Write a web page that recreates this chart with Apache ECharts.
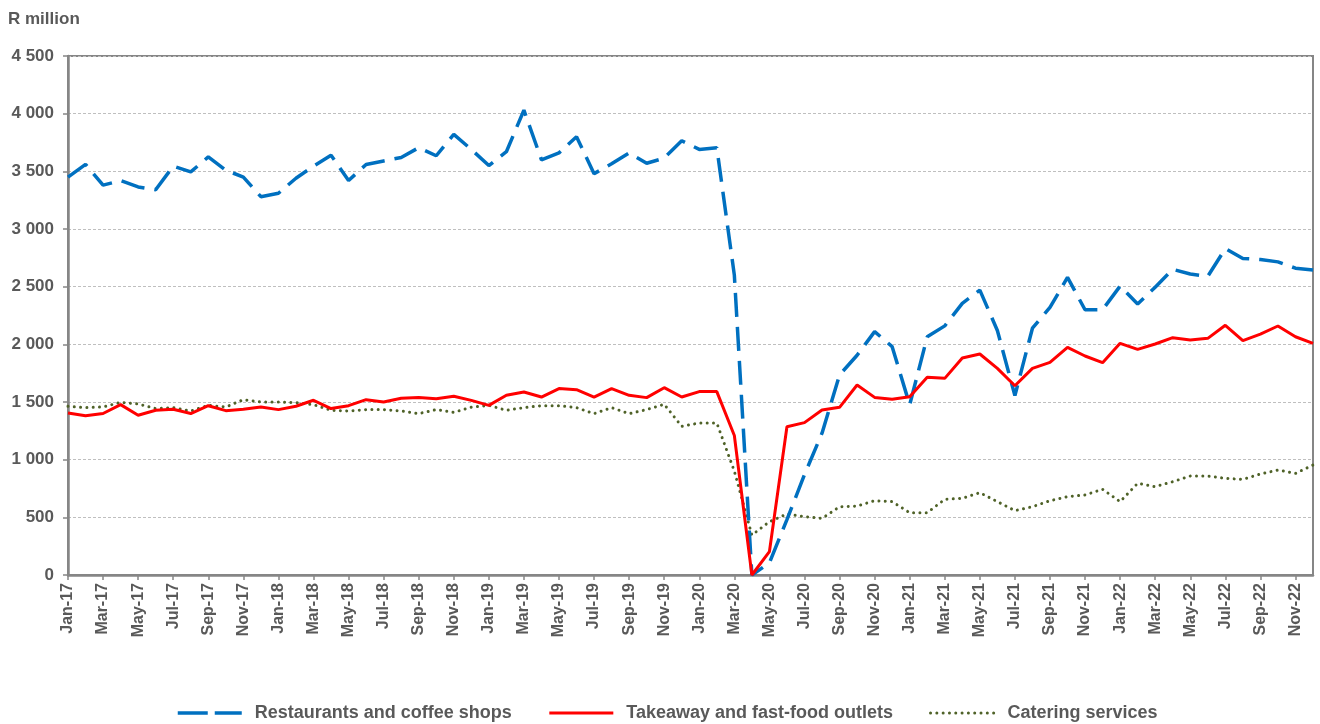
<!DOCTYPE html>
<html>
<head>
<meta charset="utf-8">
<script src="https://cdn.jsdelivr.net/npm/echarts@6/dist/echarts.min.js"></script>
<style>
html,body{margin:0;padding:0;background:#fff;}
#chart{width:1320px;height:724px;}
</style>
</head>
<body>
<div id="chart"></div>
<script>
var months = [
 'Jan-17','Feb-17','Mar-17','Apr-17','May-17','Jun-17','Jul-17','Aug-17','Sep-17','Oct-17','Nov-17','Dec-17',
 'Jan-18','Feb-18','Mar-18','Apr-18','May-18','Jun-18','Jul-18','Aug-18','Sep-18','Oct-18','Nov-18','Dec-18',
 'Jan-19','Feb-19','Mar-19','Apr-19','May-19','Jun-19','Jul-19','Aug-19','Sep-19','Oct-19','Nov-19','Dec-19',
 'Jan-20','Feb-20','Mar-20','Apr-20','May-20','Jun-20','Jul-20','Aug-20','Sep-20','Oct-20','Nov-20','Dec-20',
 'Jan-21','Feb-21','Mar-21','Apr-21','May-21','Jun-21','Jul-21','Aug-21','Sep-21','Oct-21','Nov-21','Dec-21',
 'Jan-22','Feb-22','Mar-22','Apr-22','May-22','Jun-22','Jul-22','Aug-22','Sep-22','Oct-22','Nov-22','Dec-22'
];

var restaurants = [
 3450,3560,3380,3420,3365,3340,3545,3495,3625,3510,3450,3280,
 3310,3440,3545,3640,3420,3560,3590,3620,3705,3635,3820,3690,
 3550,3670,4030,3600,3660,3800,3480,3565,3660,3570,3615,3765,
 3690,3705,2600,0,105,480,870,1230,1735,1905,2110,1980,
 1475,2065,2160,2355,2470,2120,1555,2140,2320,2580,2300,2300,
 2505,2350,2495,2650,2610,2590,2830,2745,2735,2715,2660,2645
];

var takeaway = [
 1405,1380,1400,1477,1385,1428,1437,1400,1468,1425,1437,1457,
 1434,1463,1515,1443,1468,1520,1500,1532,1538,1529,1550,1514,
 1471,1558,1587,1543,1616,1607,1543,1616,1558,1538,1624,1543,
 1590,1590,1210,0,202,1286,1321,1431,1454,1647,1540,1523,
 1546,1714,1705,1881,1916,1792,1641,1792,1844,1974,1899,1841,
 2009,1956,2003,2058,2037,2052,2165,2032,2089,2159,2066,2009
];

var catering = [
 1463,1451,1457,1497,1483,1443,1451,1422,1471,1457,1520,1500,
 1500,1494,1477,1428,1422,1434,1434,1422,1399,1434,1410,1455,
 1471,1428,1451,1468,1468,1451,1399,1451,1399,1434,1480,1289,
 1318,1318,900,346,462,529,506,491,592,598,644,636,
 540,540,656,665,714,636,558,592,644,679,694,743,
 636,795,766,809,858,858,838,829,876,910,881,954
];

var seriesNames = ['Restaurants and coffee shops','Takeaway and fast-food outlets','Catering services'];

var FONT = '"Liberation Sans", Arial, sans-serif';
var TXT = '#595959';
var AX = '#868686';
var BLUE = '#0070C0', RED = '#FF0000', GREEN = '#4F6228';

var chart = echarts.init(document.getElementById('chart'), null, {renderer:'canvas'});
chart.setOption({
  animation: false,
  backgroundColor: '#ffffff',
  title: {
    text: 'R million',
    left: 3, top: 6,
    textStyle: {fontFamily: FONT, fontSize: 17, fontWeight: 'bold', color: TXT}
  },
  grid: {
    left: 68, right: 7, top: 56, bottom: 149,
    show: true, borderColor: AX, borderWidth: 2, backgroundColor: 'transparent'
  },
  legend: {
    top: 699, left: 171,
    itemWidth: 64, itemHeight: 14, itemGap: 36,
    itemStyle: {opacity: 0},
    textStyle: {fontFamily: FONT, fontSize: 18, fontWeight: 'bold', color: TXT, padding: [0, 0, 0, 8]},
    data: [
      {name: seriesNames[0], itemStyle: {opacity: 0}, lineStyle: {color: BLUE, width: 3.5, type: [30, 7]}},
      {name: seriesNames[1], itemStyle: {opacity: 0}, lineStyle: {color: RED, width: 3, type: 'solid'}},
      {name: seriesNames[2], itemStyle: {opacity: 0}, lineStyle: {color: GREEN, width: 3, type: [0.01, 6.3], cap: 'round'}}
    ]
  },
  xAxis: {
    type: 'category',
    data: months,
    boundaryGap: false,
    axisLine: {lineStyle: {color: AX, width: 2.5}},
    axisTick: {show: true, interval: 1, length: 5, lineStyle: {color: AX, width: 1.5}},
    axisLabel: {
      interval: 1, rotate: 90, margin: 8,
      fontFamily: FONT, fontSize: 16, fontWeight: 'bold', color: TXT
    },
    splitLine: {show: false}
  },
  yAxis: {
    type: 'value',
    min: 0, max: 4500, interval: 500,
    axisLine: {show: true, lineStyle: {color: AX, width: 2.5}},
    axisTick: {show: true, length: 5, lineStyle: {color: AX, width: 1.5}},
    axisLabel: {
      margin: 14,
      fontFamily: FONT, fontSize: 17, fontWeight: 'bold', color: TXT,
      formatter: function (v) {
        var s = String(v);
        if (v >= 1000) s = s.slice(0, s.length - 3) + ' ' + s.slice(s.length - 3);
        return s;
      }
    },
    splitLine: {show: true, lineStyle: {color: '#BFBFBF', width: 1, type: [3, 2]}}
  },
  series: [
    {
      name: seriesNames[0], type: 'line', data: restaurants,
      symbol: 'none', z: 3,
      lineStyle: {color: BLUE, width: 3.5, type: [24, 10]},
      itemStyle: {color: BLUE}
    },
    {
      name: seriesNames[1], type: 'line', data: takeaway,
      symbol: 'none', z: 4,
      lineStyle: {color: RED, width: 3},
      itemStyle: {color: RED}
    },
    {
      name: seriesNames[2], type: 'line', data: catering,
      symbol: 'none', z: 2,
      lineStyle: {color: GREEN, width: 3, type: [0.01, 6.3], cap: 'round'},
      itemStyle: {color: GREEN}
    }
  ]
});
</script>
</body>
</html>
